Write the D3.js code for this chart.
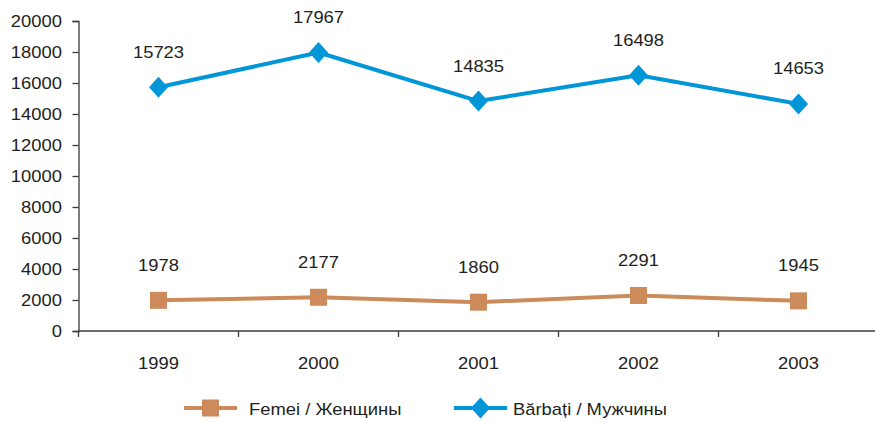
<!DOCTYPE html>
<html><head><meta charset="utf-8">
<script src="https://cdn.jsdelivr.net/npm/d3@7"></script>
<style>body{margin:0;background:#fff}svg{display:block}</style>
</head><body>
<script>
const years = ["1999","2000","2001","2002","2003"];
const femei = [1978, 2177, 1860, 2291, 1945];
const barbati = [15723, 17967, 14835, 16498, 14653];
const yTicks = [0,2000,4000,6000,8000,10000,12000,14000,16000,18000,20000];
const seriesNames = ["Femei / Женщины", "Bărbați / Мужчины"];

const W = 875, H = 422;
const textColor = "#231f20", axisColor = "#3a3a3a";
const cF = "#cd8b5c", cB = "#0096d8";
const SX = 1.15, FS = 16;

const svg = d3.select("body").append("svg").attr("width", W).attr("height", H)
  .style("font-family", "'Liberation Sans', Arial, sans-serif");

const x = d3.scaleBand().domain(years).range([78.5, 878.5]);
const y = d3.scaleLinear().domain([0, 20000]).range([331, 21]);
const cx = d => x(d) + x.bandwidth() / 2;

function stext(g, tx, ty, str, anchor) {
  return g.append("text").attr("transform", `translate(${tx},${ty}) scale(${SX},1)`)
    .attr("text-anchor", anchor).attr("dy", "0.35em")
    .attr("font-size", FS).attr("fill", textColor).text(str);
}

// y axis
const ya = svg.append("g").attr("transform", "translate(78.5,0)")
  .call(d3.axisLeft(y).tickValues(yTicks).tickSize(6).tickFormat(""));
ya.select(".domain").attr("stroke", axisColor).attr("stroke-width", 1.3);
ya.selectAll(".tick line").attr("stroke", axisColor).attr("stroke-width", 1.3);
yTicks.forEach(t => stext(svg, 62, y(t), String(t), "end"));

// x axis
const xa = svg.append("g").attr("transform", "translate(0,331)");
xa.append("line").attr("x1", 78.5).attr("x2", 878.5).attr("stroke", axisColor).attr("stroke-width", 1.3);
years.forEach((yr, i) => {
  const bx = x(yr);
  xa.append("line").attr("x1", bx).attr("x2", bx).attr("y1", 0).attr("y2", 6)
    .attr("stroke", axisColor).attr("stroke-width", 1.3);
  stext(svg, cx(yr), 363, yr, "middle");
});

const line = d3.line().x(d => cx(d[0])).y(d => y(d[1]));

function drawSeries(vals, color, shape) {
  const pts = years.map((yr, i) => [yr, vals[i]]);
  svg.append("path").attr("d", line(pts)).attr("fill", "none")
    .attr("stroke", color).attr("stroke-width", 4).attr("stroke-linejoin", "round");
  pts.forEach(p => {
    drawMarker(svg, cx(p[0]), y(p[1]), color, shape);
    stext(svg, cx(p[0]), y(p[1]) - 35, String(p[1]), "middle");
  });
}
function drawMarker(g, mx, my, color, shape) {
  if (shape === "square") {
    g.append("rect").attr("x", mx - 8.5).attr("y", my - 8.5).attr("width", 17).attr("height", 17).attr("fill", color);
  } else {
    g.append("path").attr("d", `M${mx},${my-10.5}L${mx+9.5},${my}L${mx},${my+10.5}L${mx-9.5},${my}Z`).attr("fill", color);
  }
}

drawSeries(femei, cF, "square");
drawSeries(barbati, cB, "diamond");

// legend
const lg = svg.append("g");
const legendItems = [
  {name: seriesNames[0], color: cF, shape: "square", x1: 184, x2: 237, tx: 249},
  {name: seriesNames[1], color: cB, shape: "diamond", x1: 454, x2: 507, tx: 513}
];
legendItems.forEach(it => {
  lg.append("line").attr("x1", it.x1).attr("x2", it.x2).attr("y1", 408).attr("y2", 408)
    .attr("stroke", it.color).attr("stroke-width", 4);
  drawMarker(lg, (it.x1 + it.x2) / 2, 408, it.color, it.shape);
  stext(lg, it.tx, 409, it.name, "start");
});
</script>
</body></html>
